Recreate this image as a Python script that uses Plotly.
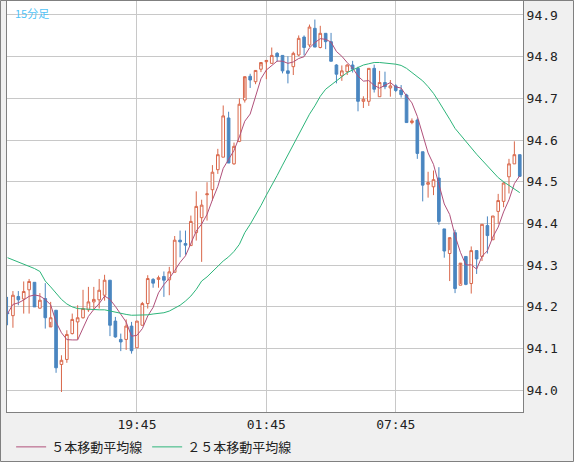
import pandas as pd
import plotly.graph_objects as go

# 15-minute bars, 13:45 -> 13:30 next day
opens = [94.186, 94.179, 94.225, 94.219, 94.241, 94.259, 94.197, 94.220, 94.152, 94.192,
         94.062, 94.074, 94.136, 94.164, 94.174, 94.193, 94.212, 94.217, 94.228, 94.264,
         94.166, 94.122, 94.122, 94.154, 94.102, 94.156, 94.208, 94.266, 94.266, 94.273,
         94.265, 94.283, 94.360, 94.352, 94.347, 94.378, 94.414, 94.469, 94.481, 94.529,
         94.559, 94.653, 94.543, 94.597, 94.696, 94.753, 94.740, 94.770, 94.788, 94.784,
         94.808, 94.803, 94.766, 94.776, 94.804, 94.847, 94.828, 94.868, 94.822, 94.856,
         94.836, 94.780, 94.754, 94.764, 94.780, 94.772, 94.693, 94.693, 94.772, 94.704,
         94.738, 94.725, 94.730, 94.720, 94.708, 94.642, 94.648, 94.572, 94.494, 94.488,
         94.509, 94.387, 94.328, 94.378, 94.252, 94.321, 94.256, 94.335, 94.321, 94.395,
         94.361, 94.429, 94.453, 94.512, 94.543, 94.565]
closes = [94.184, 94.228, 94.217, 94.237, 94.261, 94.200, 94.216, 94.174, 94.174, 94.054,
          94.072, 94.134, 94.170, 94.174, 94.196, 94.212, 94.218, 94.240, 94.264, 94.156,
          94.128, 94.116, 94.154, 94.095, 94.166, 94.208, 94.268, 94.257, 94.270, 94.264,
          94.284, 94.360, 94.356, 94.348, 94.405, 94.441, 94.444, 94.471, 94.523, 94.565,
          94.658, 94.545, 94.585, 94.686, 94.752, 94.744, 94.767, 94.786, 94.791, 94.803,
          94.800, 94.766, 94.760, 94.808, 94.844, 94.822, 94.871, 94.823, 94.856, 94.836,
          94.789, 94.758, 94.766, 94.780, 94.770, 94.693, 94.698, 94.772, 94.722, 94.738,
          94.728, 94.730, 94.719, 94.709, 94.642, 94.646, 94.568, 94.492, 94.498, 94.505,
          94.405, 94.334, 94.366, 94.244, 94.305, 94.254, 94.335, 94.315, 94.398, 94.371,
          94.418, 94.455, 94.497, 94.543, 94.565, 94.513]
highs = [94.224, 94.238, 94.238, 94.261, 94.267, 94.259, 94.233, 94.257, 94.212, 94.192,
         94.084, 94.144, 94.184, 94.204, 94.241, 94.248, 94.248, 94.267, 94.277, 94.264,
         94.176, 94.136, 94.170, 94.164, 94.166, 94.212, 94.276, 94.269, 94.275, 94.285,
         94.296, 94.370, 94.383, 94.383, 94.419, 94.477, 94.457, 94.499, 94.540, 94.579,
         94.683, 94.668, 94.594, 94.700, 94.701, 94.759, 94.765, 94.777, 94.783, 94.822,
         94.811, 94.803, 94.801, 94.812, 94.851, 94.851, 94.877, 94.889, 94.874, 94.856,
         94.857, 94.782, 94.779, 94.782, 94.790, 94.776, 94.705, 94.772, 94.781, 94.766,
         94.764, 94.744, 94.734, 94.732, 94.711, 94.652, 94.652, 94.572, 94.524, 94.527,
         94.535, 94.387, 94.336, 94.385, 94.255, 94.321, 94.345, 94.335, 94.398, 94.417,
         94.418, 94.471, 94.499, 94.555, 94.597, 94.565]
lows = [94.156, 94.150, 94.204, 94.184, 94.184, 94.200, 94.196, 94.148, 94.164, 94.042,
        93.996, 94.066, 94.134, 94.122, 94.172, 94.188, 94.192, 94.196, 94.215, 94.130,
        94.126, 94.094, 94.097, 94.088, 94.102, 94.156, 94.196, 94.246, 94.246, 94.224,
        94.228, 94.283, 94.319, 94.325, 94.347, 94.359, 94.308, 94.407, 94.455, 94.519,
        94.559, 94.545, 94.541, 94.595, 94.690, 94.725, 94.734, 94.763, 94.746, 94.784,
        94.788, 94.760, 94.736, 94.756, 94.801, 94.803, 94.823, 94.823, 94.820, 94.818,
        94.789, 94.736, 94.742, 94.756, 94.762, 94.669, 94.677, 94.682, 94.714, 94.704,
        94.722, 94.704, 94.715, 94.702, 94.642, 94.638, 94.555, 94.453, 94.462, 94.468,
        94.397, 94.318, 94.262, 94.233, 94.252, 94.252, 94.232, 94.279, 94.310, 94.328,
        94.361, 94.399, 94.439, 94.472, 94.543, 94.513]
ma25 = [94.318, 94.313, 94.307, 94.302, 94.298, 94.292, 94.285, 94.262, 94.248, 94.232,
        94.218, 94.207, 94.200, 94.196, 94.195, 94.194, 94.193, 94.193, 94.193, 94.190,
        94.188, 94.185, 94.182, 94.180, 94.180, 94.180, 94.181, 94.183, 94.184, 94.186,
        94.190, 94.197, 94.204, 94.214, 94.226, 94.242, 94.262, 94.272, 94.285, 94.298,
        94.310, 94.320, 94.333, 94.350, 94.378, 94.398, 94.420, 94.443, 94.468, 94.490,
        94.515, 94.540, 94.565, 94.590, 94.615, 94.640, 94.662, 94.682, 94.705, 94.722,
        94.733, 94.742, 94.752, 94.762, 94.768, 94.774, 94.780, 94.783, 94.786, 94.786,
        94.785, 94.784, 94.782, 94.779, 94.772, 94.762, 94.752, 94.742, 94.728, 94.712,
        94.692, 94.672, 94.650, 94.628, 94.612, 94.596, 94.582, 94.566, 94.552, 94.538,
        94.524, 94.510, 94.500, 94.492, 94.483, 94.474]
tick_pos = [24, 48, 72]
tick_text = ["19:45", "01:45", "07:45"]

idx = list(range(len(closes)))
ma5 = pd.Series(closes).rolling(5, min_periods=1).mean()

fig = go.Figure()
fig.add_trace(go.Candlestick(x=idx, open=opens, high=highs, low=lows, close=closes,
                             increasing=dict(line=dict(color='#d9674a', width=1), fillcolor='white'),
                             decreasing=dict(line=dict(color='#4a86c0', width=1), fillcolor='#4a86c0'),
                             whiskerwidth=0, showlegend=False, hoverinfo='skip'))
fig.add_trace(go.Scatter(x=idx, y=ma5, mode='lines', line=dict(color='#b0507a', width=1),
                         name='５本移動平均線'))
fig.add_trace(go.Scatter(x=idx, y=ma25, mode='lines', line=dict(color='#2db57a', width=1),
                         name='２５本移動平均線'))

fig.update_layout(
    width=574, height=462,
    margin=dict(l=7, r=51, t=1, b=50, autoexpand=False),
    paper_bgcolor='#f0f0f0', plot_bgcolor='white',
    font=dict(family='DejaVu Sans Mono', size=13, color='#222'),
    legend=dict(orientation='h', x=0.008, y=-0.085, xanchor='left', yanchor='middle',
                bgcolor='rgba(0,0,0,0)', font=dict(family='Noto Sans CJK JP', size=13)),
    xaxis=dict(range=[-0.1, 95.6], tickvals=tick_pos, ticktext=tick_text, showgrid=True,
               gridcolor='#c8c8c8', zeroline=False, rangeslider=dict(visible=False),
               showline=True, mirror=True, linecolor='#808080', ticks='', automargin=False),
    yaxis=dict(range=[93.948, 94.9335], side='right', dtick=0.1, tickformat='.1f',
               showgrid=True, gridcolor='#c8c8c8', zeroline=False, automargin=False,
               showline=True, mirror=True, linecolor='#808080', ticks=''),
    annotations=[dict(text='15分足', xref='paper', yref='paper', x=0.012, y=0.995,
                      xanchor='left', yanchor='top', showarrow=False,
                      font=dict(family='Noto Sans CJK JP', size=11, color='#4fc3f7'))],
    shapes=[dict(type='rect', xref='paper', yref='paper', x0=-6.5/516, x1=566.5/516,
                 y0=-49.5/411, y1=1 + 0.5/411, line=dict(color='#808080', width=1))],
)

fig.write_html("out.html", config={'displayModeBar': False},
               post_script="document.body.style.margin='0';")
